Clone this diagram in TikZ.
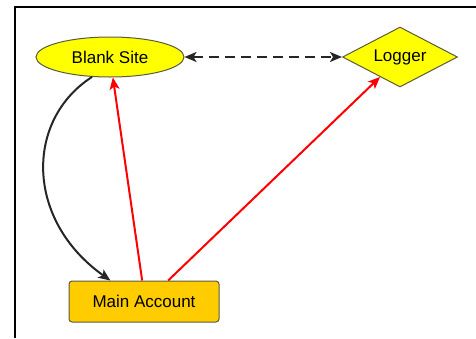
\documentclass[tikz,border=0pt]{standalone}
\usepackage{fontspec}
\setmainfont{Liberation Sans}
\usetikzlibrary{shapes.geometric,arrows.meta}
\definecolor{nodeyellow}{RGB}{255,255,0}
\definecolor{nodegold}{RGB}{255,204,0}
\definecolor{nodeborder}{RGB}{90,90,60}
\definecolor{linkred}{RGB}{255,0,0}
\begin{document}
\begin{tikzpicture}[x=1pt,y=-1pt,
  lbl/.style={font=\fontsize{17}{20}\selectfont, inner sep=0pt, draw=nodeborder, line width=1pt},
  tip/.style={-{Stealth[length=12pt,width=10pt,inset=3pt]}},
  redlink/.style={tip, draw=linkred, line width=2pt},
  blacklink/.style={tip, draw=black!85, line width=2pt},
  dashlink/.style={{Stealth[length=12pt,width=10pt,inset=3pt]}-{Stealth[length=12pt,width=10pt,inset=3pt]}, draw=black!85, line width=2pt, dash pattern=on 10pt off 6pt}]
\useasboundingbox (0,0) rectangle (476,338);
\draw[line width=2pt] (476,7) -- (15,7) -- (15,338);
\node[lbl, ellipse, fill=nodeyellow, minimum width=148pt, minimum height=40pt] (blank) at (110,57) {Blank Site};
\node[lbl, diamond, fill=nodeyellow, minimum width=115pt, minimum height=60pt, aspect=1.9] (logger) at (400,57) {Logger};
\node[lbl, rectangle, rounded corners=3pt, fill=nodegold, minimum width=150pt, minimum height=41pt] (main) at (144,301.5) {Main Account};
\draw[dashlink] (blank.east) -- (logger.west);
\draw[redlink] (main.95.5) -- (blank.278.5);
\draw[redlink] (main.41.7) -- (logger.225);
\draw[blacklink] (blank.228) .. controls (25,120) and (25,220) .. (main.148);
\end{tikzpicture}
\end{document}
